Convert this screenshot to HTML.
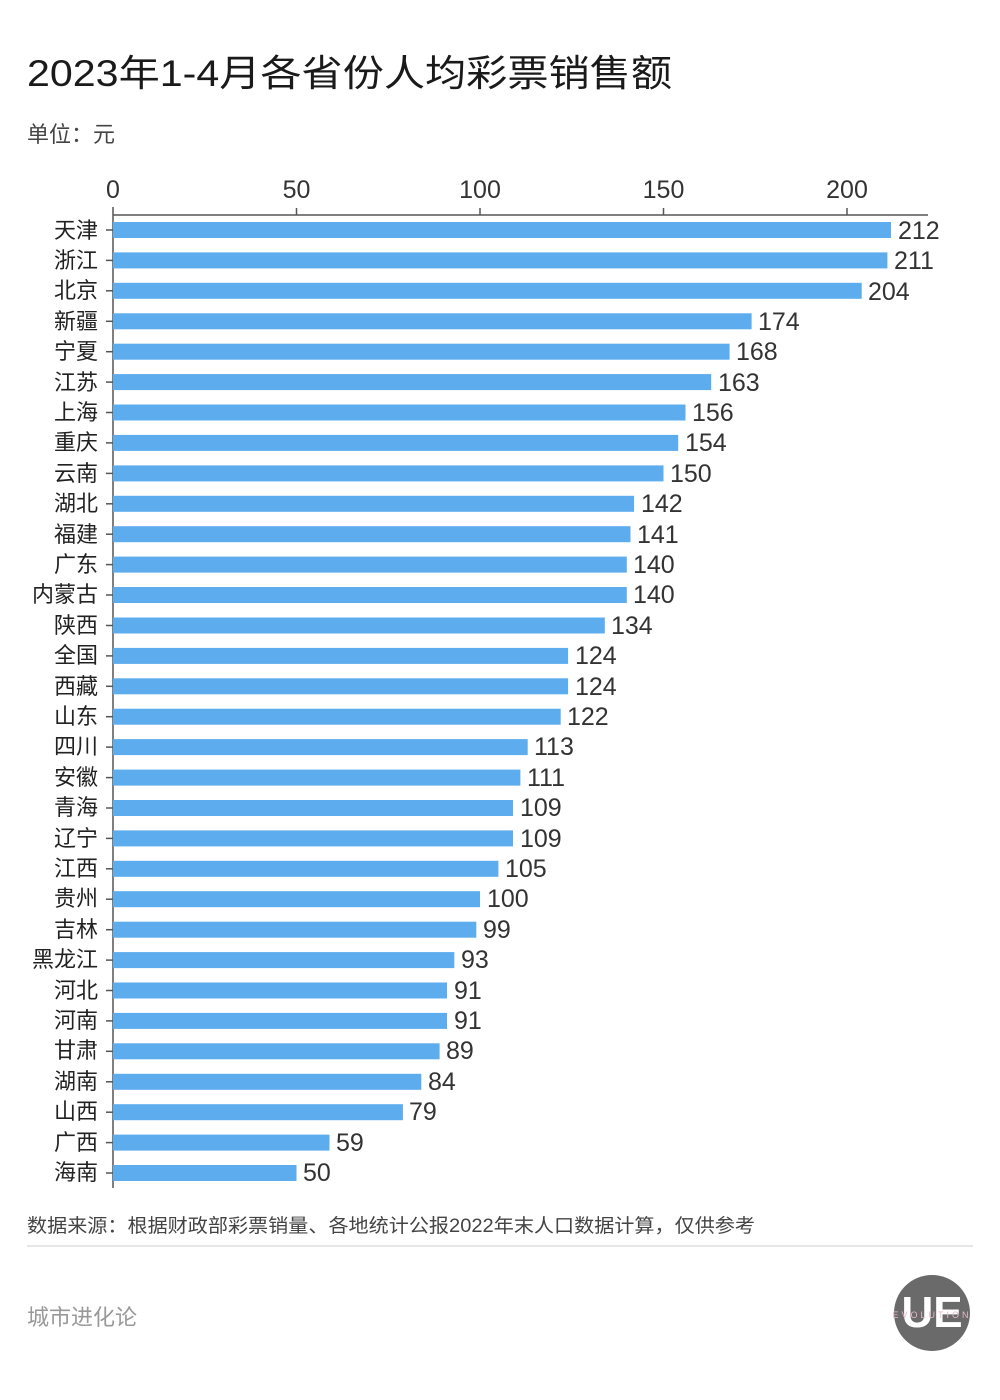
<!DOCTYPE html>
<html><head><meta charset="utf-8"><style>
html,body{margin:0;padding:0;background:#fff;}
svg{display:block;font-family:"Liberation Sans","Noto Sans CJK SC",sans-serif;}
</style></head><body>
<svg width="1000" height="1400" viewBox="0 0 1000 1400" xmlns="http://www.w3.org/2000/svg">
<rect width="1000" height="1400" fill="#fff"/>
<text x="27" y="86" font-size="37" fill="#1a1a1a" textLength="645" lengthAdjust="spacingAndGlyphs">2023年1-4月各省份人均彩票销售额</text>
<text x="27" y="142" font-size="22" fill="#444">单位：元</text>
<g font-size="25" fill="#333" text-anchor="middle">
<text x="113" y="198">0</text><text x="296.5" y="198">50</text><text x="480" y="198">100</text><text x="663.5" y="198">150</text><text x="847" y="198">200</text>
</g>
<g stroke="#555" stroke-width="1.5">
<line x1="113" y1="215" x2="928" y2="215"/>
<line x1="113" y1="207" x2="113" y2="1188"/>
<line x1="296.5" y1="208" x2="296.5" y2="215"/><line x1="480" y1="208" x2="480" y2="215"/><line x1="663.5" y1="208" x2="663.5" y2="215"/><line x1="847" y1="208" x2="847" y2="215"/>
</g>
<g fill="#5cacee">
<rect x="113" y="222.0" width="778.0" height="16"/>
<rect x="113" y="252.4" width="774.4" height="16"/>
<rect x="113" y="282.8" width="748.7" height="16"/>
<rect x="113" y="313.3" width="638.6" height="16"/>
<rect x="113" y="343.7" width="616.6" height="16"/>
<rect x="113" y="374.1" width="598.2" height="16"/>
<rect x="113" y="404.5" width="572.5" height="16"/>
<rect x="113" y="434.9" width="565.2" height="16"/>
<rect x="113" y="465.4" width="550.5" height="16"/>
<rect x="113" y="495.8" width="521.1" height="16"/>
<rect x="113" y="526.2" width="517.5" height="16"/>
<rect x="113" y="556.6" width="513.8" height="16"/>
<rect x="113" y="587.0" width="513.8" height="16"/>
<rect x="113" y="617.5" width="491.8" height="16"/>
<rect x="113" y="647.9" width="455.1" height="16"/>
<rect x="113" y="678.3" width="455.1" height="16"/>
<rect x="113" y="708.7" width="447.7" height="16"/>
<rect x="113" y="739.1" width="414.7" height="16"/>
<rect x="113" y="769.6" width="407.4" height="16"/>
<rect x="113" y="800.0" width="400.0" height="16"/>
<rect x="113" y="830.4" width="400.0" height="16"/>
<rect x="113" y="860.8" width="385.4" height="16"/>
<rect x="113" y="891.2" width="367.0" height="16"/>
<rect x="113" y="921.7" width="363.3" height="16"/>
<rect x="113" y="952.1" width="341.3" height="16"/>
<rect x="113" y="982.5" width="334.0" height="16"/>
<rect x="113" y="1012.9" width="334.0" height="16"/>
<rect x="113" y="1043.3" width="326.6" height="16"/>
<rect x="113" y="1073.8" width="308.3" height="16"/>
<rect x="113" y="1104.2" width="289.9" height="16"/>
<rect x="113" y="1134.6" width="216.5" height="16"/>
<rect x="113" y="1165.0" width="183.5" height="16"/>
</g>
<g font-size="25" fill="#333">
<text x="898" y="239">212</text>
<text x="894" y="269">211</text>
<text x="868" y="300">204</text>
<text x="758" y="330">174</text>
<text x="736" y="360">168</text>
<text x="718" y="391">163</text>
<text x="692" y="421">156</text>
<text x="685" y="451">154</text>
<text x="670" y="482">150</text>
<text x="641" y="512">142</text>
<text x="637" y="543">141</text>
<text x="633" y="573">140</text>
<text x="633" y="603">140</text>
<text x="611" y="634">134</text>
<text x="575" y="664">124</text>
<text x="575" y="695">124</text>
<text x="567" y="725">122</text>
<text x="534" y="755">113</text>
<text x="527" y="786">111</text>
<text x="520" y="816">109</text>
<text x="520" y="847">109</text>
<text x="505" y="877">105</text>
<text x="487" y="907">100</text>
<text x="483" y="938">99</text>
<text x="461" y="968">93</text>
<text x="454" y="999">91</text>
<text x="454" y="1029">91</text>
<text x="446" y="1059">89</text>
<text x="428" y="1090">84</text>
<text x="409" y="1120">79</text>
<text x="336" y="1151">59</text>
<text x="303" y="1181">50</text>
</g>
<g font-size="22" fill="#222" text-anchor="end">
<text x="98" y="238">天津</text>
<text x="98" y="268">浙江</text>
<text x="98" y="298">北京</text>
<text x="98" y="329">新疆</text>
<text x="98" y="359">宁夏</text>
<text x="98" y="390">江苏</text>
<text x="98" y="420">上海</text>
<text x="98" y="450">重庆</text>
<text x="98" y="481">云南</text>
<text x="98" y="511">湖北</text>
<text x="98" y="542">福建</text>
<text x="98" y="572">广东</text>
<text x="98" y="602">内蒙古</text>
<text x="98" y="633">陕西</text>
<text x="98" y="663">全国</text>
<text x="98" y="694">西藏</text>
<text x="98" y="724">山东</text>
<text x="98" y="754">四川</text>
<text x="98" y="785">安徽</text>
<text x="98" y="815">青海</text>
<text x="98" y="846">辽宁</text>
<text x="98" y="876">江西</text>
<text x="98" y="906">贵州</text>
<text x="98" y="937">吉林</text>
<text x="98" y="967">黑龙江</text>
<text x="98" y="998">河北</text>
<text x="98" y="1028">河南</text>
<text x="98" y="1058">甘肃</text>
<text x="98" y="1089">湖南</text>
<text x="98" y="1119">山西</text>
<text x="98" y="1150">广西</text>
<text x="98" y="1180">海南</text>
</g>
<g stroke="#555" stroke-width="1.5">
<line x1="106" y1="230" x2="113" y2="230"/><line x1="106" y1="260.4" x2="113" y2="260.4"/><line x1="106" y1="290.8" x2="113" y2="290.8"/><line x1="106" y1="321.3" x2="113" y2="321.3"/><line x1="106" y1="351.7" x2="113" y2="351.7"/><line x1="106" y1="382.1" x2="113" y2="382.1"/><line x1="106" y1="412.5" x2="113" y2="412.5"/><line x1="106" y1="442.9" x2="113" y2="442.9"/><line x1="106" y1="473.4" x2="113" y2="473.4"/><line x1="106" y1="503.8" x2="113" y2="503.8"/><line x1="106" y1="534.2" x2="113" y2="534.2"/><line x1="106" y1="564.6" x2="113" y2="564.6"/><line x1="106" y1="595" x2="113" y2="595"/><line x1="106" y1="625.5" x2="113" y2="625.5"/><line x1="106" y1="655.9" x2="113" y2="655.9"/><line x1="106" y1="686.3" x2="113" y2="686.3"/><line x1="106" y1="716.7" x2="113" y2="716.7"/><line x1="106" y1="747.1" x2="113" y2="747.1"/><line x1="106" y1="777.6" x2="113" y2="777.6"/><line x1="106" y1="808" x2="113" y2="808"/><line x1="106" y1="838.4" x2="113" y2="838.4"/><line x1="106" y1="868.8" x2="113" y2="868.8"/><line x1="106" y1="899.2" x2="113" y2="899.2"/><line x1="106" y1="929.7" x2="113" y2="929.7"/><line x1="106" y1="960.1" x2="113" y2="960.1"/><line x1="106" y1="990.5" x2="113" y2="990.5"/><line x1="106" y1="1020.9" x2="113" y2="1020.9"/><line x1="106" y1="1051.3" x2="113" y2="1051.3"/><line x1="106" y1="1081.8" x2="113" y2="1081.8"/><line x1="106" y1="1112.2" x2="113" y2="1112.2"/><line x1="106" y1="1142.6" x2="113" y2="1142.6"/><line x1="106" y1="1173" x2="113" y2="1173"/>
</g>
<text x="27" y="1232" font-size="19" fill="#444" textLength="728" lengthAdjust="spacingAndGlyphs">数据来源：根据财政部彩票销量、各地统计公报2022年末人口数据计算，仅供参考</text>
<line x1="27" y1="1246" x2="973" y2="1246" stroke="#ddd" stroke-width="1.5"/>
<text x="27" y="1325" font-size="22" fill="#999">城市进化论</text>
<circle cx="932" cy="1313" r="38" fill="#6a6a6a"/>
<text x="932" y="1327" font-size="44" font-weight="bold" fill="#fff" text-anchor="middle">UE</text>
<text x="932" y="1318" font-size="9" fill="#e8b8c8" text-anchor="middle" letter-spacing="3">EVOLUTION</text>
</svg>
</body></html>
